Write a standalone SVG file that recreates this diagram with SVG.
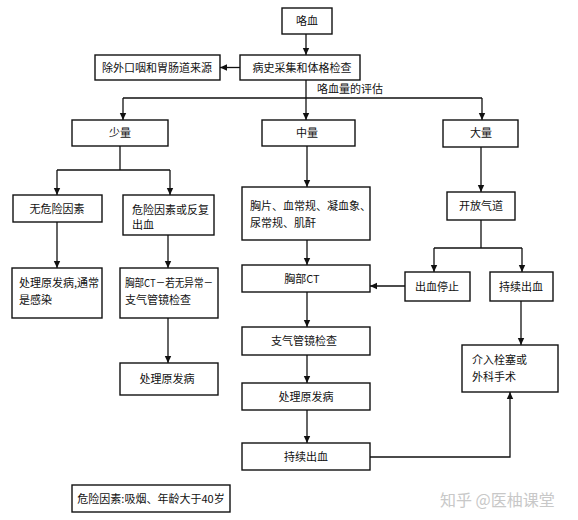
<svg xmlns="http://www.w3.org/2000/svg" width="578" height="520" viewBox="0 0 578 520">
<defs>
<marker id="ah" markerWidth="8" markerHeight="8" refX="7" refY="4" orient="auto" markerUnits="userSpaceOnUse">
<path d="M0,0.8 L7,4 L0,7.2 Z" fill="#111"/>
</marker>
<style>
.b{fill:#fff;stroke:#111;stroke-width:1.4}
.t{font-family:"Noto Sans CJK SC","Noto Sans",sans-serif;font-size:11px;fill:#111}
.c{text-anchor:middle}
.l{fill:none;stroke:#111;stroke-width:1.3}
.a{fill:none;stroke:#111;stroke-width:1.3;marker-end:url(#ah)}
</style>
</defs>
<rect width="578" height="520" fill="#fff"/>
<g id="connectors">
<path class="a" d="M306,34 V55"/>
<path class="a" d="M240,67.5 H220"/>
<path class="l" d="M306,80 V98 M123,98 H482"/>
<path class="a" d="M123,98 V120"/>
<path class="a" d="M306,98 V120"/>
<path class="a" d="M482,98 V120"/>
<path class="l" d="M120,146 V170 M57,170 H170"/>
<path class="a" d="M57,170 V195"/>
<path class="a" d="M170,170 V195"/>
<path class="a" d="M57,222 V268"/>
<path class="a" d="M168,235 V268"/>
<path class="a" d="M168,318 V363"/>
<path class="a" d="M307,146 V187"/>
<path class="a" d="M307,240 V265"/>
<path class="a" d="M307,292 V327"/>
<path class="a" d="M307,355 V383"/>
<path class="a" d="M307,410 V443"/>
<path class="a" d="M370,457 H510 V392"/>
<path class="a" d="M481,147 V192"/>
<path class="l" d="M481,220 V248 M434,248 H522"/>
<path class="a" d="M434,248 V272"/>
<path class="a" d="M522,248 V272"/>
<path class="a" d="M405,286 H370"/>
<path class="a" d="M521,300 V345"/>
<text class="t" x="317" y="93">咯血量的评估</text>
</g>
<g id="n1"><rect class="b" x="282" y="8" width="50" height="26"/><text class="t c" x="307" y="25">咯血</text></g>
<g id="n2"><rect class="b" x="240" y="55" width="120" height="25"/><text class="t c" x="302" y="72">病史采集和体格检查</text></g>
<g id="n3"><rect class="b" x="95" y="55" width="125" height="25"/><text class="t c" x="157" y="72">除外口咽和胃肠道来源</text></g>
<g id="n4"><rect class="b" x="72" y="120" width="96" height="26"/><text class="t c" x="120" y="137">少量</text></g>
<g id="n5"><rect class="b" x="262" y="120" width="93" height="26"/><text class="t c" x="307" y="137">中量</text></g>
<g id="n6"><rect class="b" x="443" y="120" width="75" height="27"/><text class="t c" x="481" y="137">大量</text></g>
<g id="n7"><rect class="b" x="13" y="195" width="89" height="27"/><text class="t c" x="57" y="213">无危险因素</text></g>
<g id="n8"><rect class="b" x="123" y="195" width="91" height="40"/><text class="t" x="132" y="214">危险因素或反复</text><text class="t" x="132" y="229">出血</text></g>
<g id="n9"><rect class="b" x="12" y="268" width="90" height="50"/><text class="t" x="19" y="287">处理原发病,通常</text><text class="t" x="19" y="304">是感染</text></g>
<g id="n10"><rect class="b" x="120" y="268" width="98" height="50"/><text class="t" x="125" y="287" textLength="88" lengthAdjust="spacingAndGlyphs">胸部CT－若无异常－</text><text class="t" x="125" y="304">支气管镜检查</text></g>
<g id="n11"><rect class="b" x="120" y="363" width="98" height="32"/><text class="t c" x="167" y="383">处理原发病</text></g>
<g id="n12"><rect class="b" x="242" y="187" width="128" height="53"/><text class="t" x="250" y="210">胸片、血常规、凝血象、</text><text class="t" x="250" y="227">尿常规、肌酐</text></g>
<g id="n13"><rect class="b" x="242" y="265" width="128" height="27"/><text class="t c" x="302" y="283">胸部CT</text></g>
<g id="n14"><rect class="b" x="242" y="327" width="128" height="28"/><text class="t c" x="304" y="345">支气管镜检查</text></g>
<g id="n15"><rect class="b" x="242" y="383" width="128" height="27"/><text class="t c" x="306" y="401">处理原发病</text></g>
<g id="n16"><rect class="b" x="242" y="443" width="128" height="27"/><text class="t c" x="306" y="461">持续出血</text></g>
<g id="n17"><rect class="b" x="447" y="192" width="68" height="28"/><text class="t c" x="481" y="210">开放气道</text></g>
<g id="n18"><rect class="b" x="405" y="272" width="65" height="29"/><text class="t c" x="437" y="291">出血停止</text></g>
<g id="n19"><rect class="b" x="490" y="272" width="63" height="29"/><text class="t c" x="521" y="291">持续出血</text></g>
<g id="n20"><rect class="b" x="462" y="345" width="96" height="47"/><text class="t" x="472" y="364">介入栓塞或</text><text class="t" x="472" y="381">外科手术</text></g>
<g id="n21"><rect class="b" x="72" y="485" width="158" height="27"/><text class="t c" x="151" y="503">危险因素:吸烟、年龄大于40岁</text></g>
<text x="440" y="506" style="font-family:'Noto Sans CJK SC','Noto Sans',sans-serif;font-size:16px;fill:#c8c8c8">知乎 @医柚课堂</text>
</svg>
